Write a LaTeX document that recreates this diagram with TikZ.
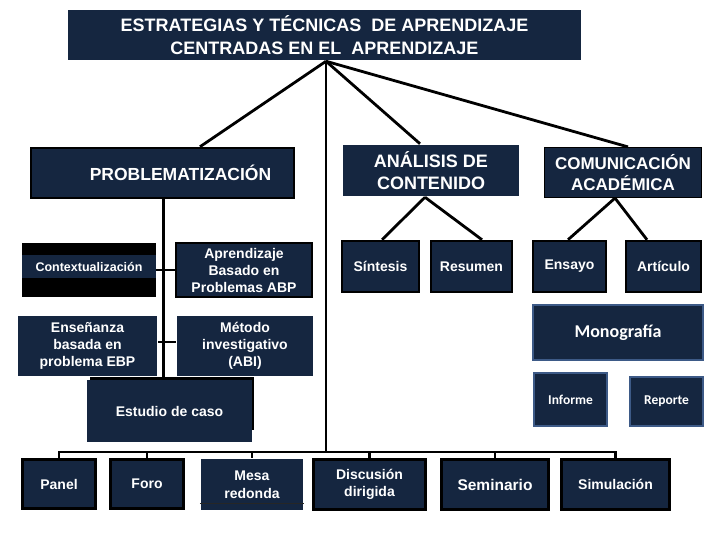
\documentclass[tikz,border=0pt]{standalone}
\usepackage{fontspec}
\setmainfont{Liberation Sans}
\newfontfamily\calib{Carlito}
\definecolor{navy}{RGB}{21,38,64}
\definecolor{monob}{RGB}{61,90,135}
\newcommand{\myfs}[2]{\fontsize{#1}{#2}\selectfont}
\begin{document}
\begin{tikzpicture}[x=1pt,y=-1pt,
  box/.style={fill=navy, text=white, align=center, inner sep=0pt, draw=black, line width=2.5pt, font=\myfs{14}{17}\bfseries},
  plain/.style={box, draw=none},
  cbox/.style={box, draw=monob, line width=2.5pt},
  conn/.style={line width=2.8pt, black}]
\useasboundingbox (0,0) rectangle (720,540);
\fill[white] (0,0) rectangle (720,540);
% top
\node[plain, minimum width=513pt, minimum height=50pt, font=\myfs{18}{23}\bfseries] (title) at (324.5,35) {ESTRATEGIAS Y TÉCNICAS \ DE APRENDIZAJE\\CENTRADAS EN EL \ APRENDIZAJE};
\node[box, minimum width=263pt, minimum height=50pt, font=\myfs{17.5}{21}\bfseries] (prob) at (162.5,173) {\hspace*{36pt}PROBLEMATIZACIÓN};
\node[plain, minimum width=176pt, minimum height=51pt, font=\myfs{18}{22}\bfseries] (anal) at (431,170.5) {ANÁLISIS DE\\CONTENIDO};
\node[box, line width=1.2pt, minimum width=157pt, minimum height=50pt, font=\myfs{17}{21}\bfseries] (comu) at (623,172.5) {COMUNICACIÓN\\ACADÉMICA};
% left column
\node[fill=black, minimum width=134pt, minimum height=54pt, inner sep=0pt] (ctxbg) at (89,270) {};
\node[plain, minimum width=134pt, minimum height=23pt, font=\myfs{12.5}{15}\bfseries] (ctx) at (89,266.5) {Contextualización};
\node[box, minimum width=136pt, minimum height=54pt] (abp) at (244,270) {Aprendizaje\\Basado en\\Problemas ABP};
\node[plain, minimum width=139pt, minimum height=60pt] (ens) at (87.5,346) {Enseñanza\\basada en\\problema EBP};
\node[plain, minimum width=136pt, minimum height=60pt] (met) at (245,346) {Método\\investigativo\\(ABI)};
\fill[black] (90,377) rectangle (254,430);
\node[plain, minimum width=165pt, minimum height=62pt] (est) at (169.5,411) {Estudio de caso};
% middle / right
\node[box, minimum width=77pt, minimum height=51pt] (sint) at (380.5,266.5) {Síntesis};
\node[box, minimum width=81pt, minimum height=51pt] (resu) at (471.5,266.5) {Resumen};
\node[box, minimum width=73pt, minimum height=51pt] (ensa) at (569.5,266.5) {Ensayo};
\node[box, minimum width=75pt, minimum height=51pt] (arti) at (663.5,266.5) {Artículo};
\node[cbox, minimum width=170pt, minimum height=55pt, font=\calib\myfs{18}{22}\bfseries] (mono) at (618,332.5) {Monografía};
\node[cbox, minimum width=73pt, minimum height=53pt, font=\calib\myfs{13.5}{16}\bfseries] (info) at (570.5,399.5) {Informe};
\node[cbox, minimum width=73pt, minimum height=49pt, font=\calib\myfs{13.5}{16}\bfseries] (repo) at (666.5,401.5) {Reporte};
% bottom row
\node[box, line width=3pt, minimum width=73pt, minimum height=49pt] (panel) at (59,484) {Panel};
\node[box, line width=3pt, minimum width=73pt, minimum height=49pt] (foro) at (147,484) {Foro};
\node[plain, minimum width=102pt, minimum height=51pt, font=\myfs{14}{18}\bfseries] (mesa) at (252,484.5) {Mesa\\redonda};
\draw[line width=1pt, black!85] ([yshift=8pt]mesa.south west) -- ([yshift=8pt]mesa.south east);
\node[box, line width=3pt, minimum width=112pt, minimum height=50pt] (disc) at (369.5,484.5) {Discusión\\dirigida};
\node[box, line width=3pt, minimum width=107pt, minimum height=50pt, font=\myfs{15.5}{18}\bfseries] (semi) at (495,484.5) {Seminario};
\node[box, line width=3pt, minimum width=108pt, minimum height=50pt] (simu) at (615.5,484.5) {Simulación};
% connectors
\coordinate (t0) at ([xshift=1.5pt]title.south);
\coordinate (bus) at (0,452);
\draw[conn] (t0) -- ([xshift=37.5pt]prob.north);
\draw[conn] (t0) -- ([xshift=-11pt]anal.north);
\draw[conn] (t0) -- ([xshift=5pt]comu.north);
\draw[conn] (t0) -- (t0 |- bus);
\draw[conn] (panel.north) -- (panel.north |- bus) -- (simu.north |- bus) -- (simu.north);
\draw[conn] (foro.north) -- (foro.north |- bus);
\draw[conn] (mesa.north) -- (mesa.north |- bus);
\draw[conn] (disc.north) -- (disc.north |- bus);
\draw[conn] (semi.north) -- (semi.north |- bus);
\draw[conn] ([xshift=1pt]prob.south) -- ([xshift=1pt]prob.south |- est.north);
\draw[conn] (ctxbg.east) -- (ctxbg.east -| abp.west);
\draw[conn] ([yshift=4pt]ens.east) -- ([yshift=4pt]met.west);
\draw[conn] ([xshift=-6pt]anal.south) -- ([xshift=1.5pt]sint.north);
\draw[conn] ([xshift=-6pt]anal.south) -- ([xshift=10.5pt]resu.north);
\draw[conn] ([xshift=-8pt]comu.south) -- ([xshift=-1.5pt]ensa.north);
\draw[conn] ([xshift=-8pt]comu.south) -- ([xshift=-16.5pt]arti.north);
\end{tikzpicture}
\end{document}
